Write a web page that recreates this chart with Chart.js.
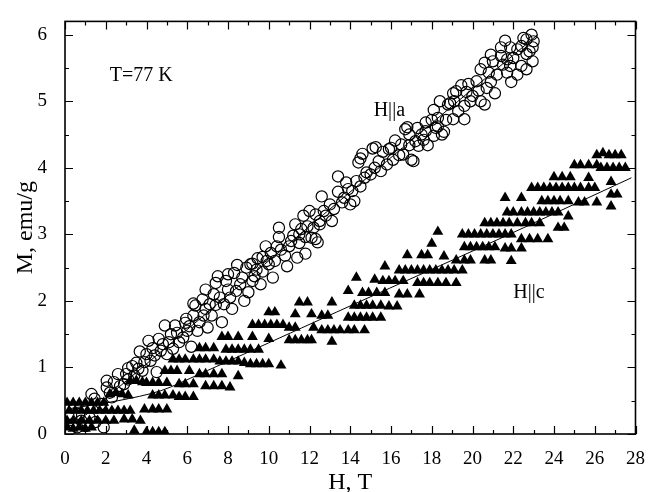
<!DOCTYPE html>
<html>
<head>
<meta charset="utf-8">
<script src="https://cdn.jsdelivr.net/npm/chart.js@4"></script>
<style>
  html, body { margin: 0; padding: 0; background: #fff; }
  #wrap { width: 651px; height: 492px; }
</style>
</head>
<body>
<div id="wrap"><canvas id="chart"></canvas></div>
<script>
// axis ranges
const xRange = [0, 28];
const yRange = [0, 6.2];

// H||a, open circles  [H (T), M (emu/g)]
const hParA = [
  [0.2,0.05],[0.3,0.28],[0.4,0.15],[0.6,0.1],[0.7,0.3],[0.8,0.2],[1.0,0.12],[1.2,0.25],[1.5,0.18],[1.9,0.1],
  [1.3,0.6],[1.45,0.53],[1.8,0.45],[2.05,0.8],[2.05,0.7],[2.2,0.62],[2.4,0.78],[2.6,0.9],[2.9,0.75],[3.1,0.99],
  [3.1,0.82],[3.3,1.02],[3.4,0.88],[3.5,1.07],[3.67,1.24],[3.8,0.95],[4.0,1.2],[4.1,1.4],[4.2,1.1],[4.3,1.29],
  [4.5,0.93],[4.6,1.43],[4.8,1.35],[4.9,1.63],[5.0,1.2],[5.2,1.5],[5.4,1.63],[5.6,1.38],[5.9,1.67],[5.95,1.73],
  [6.0,1.55],[6.2,1.31],[6.3,1.78],[6.3,1.96],[6.4,1.93],[6.6,1.68],[6.75,2.02],[6.9,2.17],[6.9,1.88],[7.0,1.6],
  [7.2,1.78],[7.4,1.94],[7.4,2.27],[7.5,2.37],[7.6,2.05],[7.7,1.68],[8.0,2.17],[8.0,2.4],[8.2,1.88],[8.3,2.42],
  [8.45,2.54],[8.6,2.25],[8.8,2.0],[9.0,2.13],[9.1,2.55],[9.2,2.56],[9.3,2.37],[9.45,2.64],[9.6,2.25],[9.7,2.44],
  [9.7,2.66],[9.85,2.82],[10.0,2.55],[10.2,2.35],[10.3,2.6],[10.5,2.96],[10.5,3.1],[10.6,2.77],[10.9,2.52],[11.0,2.82],
  [11.2,2.98],[11.3,3.15],[11.4,2.65],[11.5,2.87],[11.6,3.08],[11.7,3.28],[11.8,2.71],[11.8,2.96],[12.0,3.35],[12.1,2.95],
  [12.2,3.1],[12.3,3.3],[12.3,2.93],[12.4,2.88],[12.5,3.15],[12.5,3.2],[12.6,3.57],[12.7,3.35],[13.0,3.45],[13.1,3.2],
  [13.4,3.64],[13.4,3.87],[13.7,3.55],[13.9,3.68],[14.0,3.45],[14.2,3.5],[14.3,3.8],[14.4,4.08],[14.5,4.14],[14.6,4.21],
  [14.8,3.93],[15.0,3.9],[15.1,4.29],[15.25,4.31],[15.4,4.1],[15.6,4.24],[15.9,4.28],[16.1,4.12],[16.2,4.41],[16.4,4.19],
  [16.6,4.2],[16.7,4.58],[16.8,4.61],[16.9,4.34],[17.0,4.12],[17.1,4.1],[17.2,4.4],[17.35,4.33],[17.5,4.5],[17.7,4.68],
  [17.7,4.55],[17.8,4.34],[18.0,4.72],[18.1,4.48],[18.1,4.87],[18.2,4.6],[18.3,4.75],[18.4,5.0],[18.5,4.5],[18.6,4.54],
  [18.8,4.95],[18.9,4.97],[19.05,5.12],[19.05,4.73],[19.1,5.0],[19.2,5.15],[19.45,5.24],[19.6,4.73],[19.6,4.93],[19.7,5.14],
  [19.8,5.26],[20.0,5.08],[20.3,5.16],[20.4,5.0],[20.4,5.48],[20.6,4.95],[20.6,5.58],[20.8,5.43],[20.9,5.29],[21.0,5.6],
  [21.1,5.12],[21.4,5.81],[21.4,5.68],[21.6,5.91],[21.7,5.63],[21.7,5.43],[21.85,5.53],[21.85,5.81],[21.9,5.29],[22.2,5.78],
  [22.4,5.83],[22.4,5.53],[22.65,5.71],[22.65,5.93],[22.65,5.48],[22.9,6.0],[22.95,5.81],[22.95,5.6],
  [2.3,0.55],[2.7,0.72],[3.0,0.9],[3.6,0.98],[3.9,1.08],[4.4,1.18],[4.7,1.25],[5.1,1.38],[5.3,1.28],[5.5,1.52],
  [5.8,1.45],[6.1,1.62],[6.5,1.55],[6.8,1.78],[7.1,1.95],[7.3,2.1],[7.8,1.95],[7.9,2.3],[8.1,2.05],[8.4,2.15],
  [8.7,2.35],[8.9,2.5],[9.2,2.3],[9.4,2.47],[9.9,2.6],[10.1,2.72],[10.4,2.82],[10.8,2.68],[11.1,2.9],[11.5,3.0],
  [11.9,3.12],[12.8,3.28],[13.2,3.38],[13.6,3.48],[13.8,3.78],[14.1,3.65],[14.5,3.72],[14.7,3.85],[15.2,4.0],[15.5,3.95],
  [15.8,4.05],[16.0,4.3],[16.5,4.35],[16.9,4.5],[17.3,4.6],[17.6,4.42],[18.3,4.62],[18.7,4.72],[19.3,4.85],[19.9,5.0],
  [20.2,5.3],[20.7,5.2],[21.2,5.4],[21.5,5.55],[22.0,5.65],[22.2,5.4],[22.8,5.75],[23.0,5.9],[22.5,5.95],[20.9,5.7]
];

// H||c, filled triangles  [H (T), M (emu/g)]
const hParC = [
  [0.1,0.47],[0.4,0.47],[0.7,0.47],[1.0,0.47],[1.3,0.47],[1.6,0.47],[1.9,0.47],
  [0.2,0.35],[0.5,0.35],[0.8,0.35],[1.1,0.35],[1.4,0.35],[1.7,0.35],[2.0,0.35],[2.3,0.35],[2.6,0.35],[2.9,0.35],[3.2,0.35],
  [0.1,0.2],[0.4,0.2],[0.8,0.2],[1.2,0.2],[1.6,0.2],[2.0,0.2],[2.4,0.2],[2.9,0.22],[3.3,0.22],[3.7,0.2],
  [0.1,0.1],[0.4,0.08],[0.7,0.1],[1.0,0.08],[1.3,0.1],
  [3.4,0.05],[4.0,0.03],[4.3,0.03],[4.6,0.03],[4.9,0.03],
  [2.2,0.6],[2.5,0.62],[2.8,0.6],[3.1,0.58],
  [3.2,0.8],[3.5,0.8],[3.8,0.78],
  [3.9,0.37],[4.3,0.37],[4.6,0.37],[5.0,0.37],
  [4.0,0.77],[4.3,0.77],[4.6,0.77],[5.0,0.77],
  [4.3,0.58],[4.6,0.58],[4.9,0.58],[5.3,0.58],[5.6,0.56],[5.9,0.56],[6.3,0.56],
  [4.9,0.95],[5.2,0.95],[5.5,0.95],[6.1,0.95],
  [5.3,1.12],[5.6,1.12],[5.9,1.12],[6.3,1.12],
  [5.6,0.75],[5.9,0.75],[6.3,0.75],
  [6.6,1.29],[6.9,1.29],[7.3,1.29],
  [6.6,1.12],[6.9,1.12],[7.3,1.12],
  [7.7,1.46],[8.0,1.46],[8.5,1.46],
  [7.9,1.27],[8.2,1.27],[8.5,1.27],[8.8,1.27],[9.1,1.27],[9.5,1.27],
  [7.6,1.09],[7.9,1.09],[8.2,1.09],[8.5,1.09],[8.8,1.07],[9.1,1.05],[9.4,1.05],[9.7,1.05],[10.0,1.05],[10.6,1.03],
  [6.6,0.9],[6.9,0.9],[7.3,0.9],[7.7,0.9],[8.5,0.87],
  [6.9,0.72],[7.3,0.72],[7.7,0.72],[8.1,0.7],
  [9.2,1.46],[10.0,1.43],
  [9.2,1.64],[9.5,1.64],[9.8,1.64],[10.1,1.64],[10.4,1.64],[10.7,1.64],
  [10.0,1.83],[10.3,1.83],
  [11.0,1.6],[11.3,1.6],[12.2,1.6],
  [11.3,1.8],[12.1,1.8],[12.6,1.78],[12.9,1.78],
  [11.5,1.98],[11.9,1.98],[13.1,1.98],
  [11.0,1.41],[11.3,1.41],[11.6,1.41],[11.9,1.41],[12.1,1.41],
  [12.6,1.56],[12.9,1.56],[13.2,1.56],[13.5,1.56],[13.9,1.56],[14.2,1.56],[14.7,1.56],
  [13.1,1.39],[13.9,2.15],[14.3,2.35],
  [13.9,1.75],[14.2,1.75],[14.5,1.75],[14.8,1.75],[15.1,1.75],[15.5,1.75],
  [14.2,1.93],[14.5,1.93],[14.8,1.93],[15.1,1.93],[15.5,1.93],[15.9,1.92],[16.3,1.92],
  [14.6,2.12],[14.9,2.12],[15.3,2.12],[15.7,2.12],
  [16.4,2.1],[16.8,2.1],[17.4,2.1],
  [15.2,2.32],[15.6,2.3],[15.9,2.3],[16.2,2.3],[16.6,2.3],
  [15.7,2.52],
  [16.4,2.46],[16.7,2.46],[17.0,2.46],[17.3,2.46],[17.6,2.46],[17.9,2.46],[18.2,2.46],[18.5,2.46],[18.8,2.46],[19.1,2.46],[19.5,2.46],
  [17.3,2.27],[17.6,2.27],[17.9,2.27],[18.3,2.27],[18.7,2.27],[19.2,2.27],
  [16.8,2.69],[17.5,2.69],[17.8,2.69],[18.6,2.67],
  [19.2,2.61],[19.6,2.61],[19.9,2.61],[20.6,2.61],[20.9,2.61],[21.9,2.6],
  [18.0,2.86],[18.3,3.04],
  [19.6,2.81],[19.9,2.81],[20.2,2.81],[20.5,2.81],[20.8,2.81],[21.1,2.81],
  [21.6,2.79],[21.9,2.79],[22.4,2.79],
  [19.5,3.0],[19.8,3.0],[20.1,3.0],[20.4,3.0],[20.7,3.0],[21.0,3.0],[21.3,3.0],[21.6,3.0],[21.9,3.0],
  [20.6,3.17],[20.9,3.17],[21.2,3.17],[21.5,3.17],[21.8,3.17],[22.2,3.17],[22.6,3.17],[22.9,3.17],[23.3,3.17],
  [22.4,2.93],[22.8,2.93],[23.2,2.93],[23.7,2.93],
  [21.6,3.55],[22.4,3.55],
  [21.7,3.33],[22.0,3.33],[22.4,3.33],
  [22.7,3.33],[23.0,3.33],[23.3,3.33],[23.6,3.33],[23.9,3.33],[24.2,3.33],
  [22.9,3.7],[23.2,3.7],[23.5,3.7],[23.8,3.7],[24.1,3.7],[24.4,3.7],[24.7,3.7],[25.0,3.7],[25.3,3.7],[25.7,3.7],[26.0,3.7],
  [23.4,3.5],[23.7,3.5],[24.0,3.5],[24.3,3.5],[24.7,3.5],
  [24.0,3.86],[24.4,3.86],[24.8,3.86],
  [24.7,3.27],[24.2,3.1],[24.5,3.1],
  [25.2,3.48],[25.5,3.48],[26.1,3.48],
  [25.7,3.85],
  [25.0,4.04],[25.3,4.04],[25.7,4.04],[26.1,4.04],
  [26.1,4.19],[26.4,4.22],[26.7,4.19],[27.0,4.19],[27.3,4.19],
  [26.3,4.0],[26.6,4.0],[26.9,4.0],[27.2,4.0],[27.5,4.0],
  [26.8,3.79],[26.8,3.6],[27.1,3.6],[26.8,3.42]
];

// fitted curves
const fitA = [[1.0,0.28],[6.0,1.57],[12.0,3.12],[18.0,4.67],[23.2,6.0]];
const fitC = [[0.2,0.38],[2.6,0.5],[4.7,0.65],[6.6,0.9],[10.0,1.37],[14.4,1.98],[20.8,2.86],[27.8,3.85]];

const SERIF = "'Liberation Serif', 'Times New Roman', serif";
const toXY = arr => arr.map(p => ({ x: p[0], y: p[1] }));

// frame with inward ticks on all four sides + text labels
const framePlugin = {
  id: 'framePlugin',
  afterDatasetsDraw(chart) {
    const { ctx, chartArea: a, scales: { x, y } } = chart;
    ctx.save();
    ctx.strokeStyle = '#000';
    ctx.lineWidth = 1.2;
    ctx.beginPath();
    for (let v = xRange[0]; v <= xRange[1]; v += 1) {
      const len = v % 2 === 0 ? 8 : 4;
      const px = Math.round(x.getPixelForValue(v)) + 0.5;
      ctx.moveTo(px, a.bottom); ctx.lineTo(px, a.bottom - len);
      ctx.moveTo(px, a.top); ctx.lineTo(px, a.top + len);
    }
    for (let v = 0; v <= 6; v += 0.5) {
      const len = v % 1 === 0 ? 8 : 4;
      const py = Math.round(y.getPixelForValue(v)) + 0.5;
      ctx.moveTo(a.left, py); ctx.lineTo(a.left + len, py);
      ctx.moveTo(a.right, py); ctx.lineTo(a.right - len, py);
    }
    ctx.stroke();
    ctx.lineWidth = 1.6;
    ctx.strokeRect(a.left, a.top, a.right - a.left, a.bottom - a.top);

    ctx.fillStyle = '#000';
    ctx.font = '20px ' + SERIF;
    ctx.textBaseline = 'alphabetic';
    ctx.textAlign = 'left';
    ctx.fillText('T=77 K', x.getPixelForValue(2.2), y.getPixelForValue(5.31));
    ctx.fillText('H||a', x.getPixelForValue(15.15), y.getPixelForValue(4.78));
    ctx.fillText('H||c', x.getPixelForValue(22.0), y.getPixelForValue(2.05));
    ctx.restore();
  }
};

new Chart(document.getElementById('chart'), {
  type: 'scatter',
  data: {
    datasets: [
      {
        label: 'fit a',
        data: toXY(fitA),
        showLine: true,
        borderColor: '#000',
        borderWidth: 1,
        pointRadius: 0,
        tension: 0.3,
        clip: 0
      },
      {
        label: 'fit c',
        data: toXY(fitC),
        showLine: true,
        borderColor: '#000',
        borderWidth: 1,
        pointRadius: 0,
        tension: 0.3,
        clip: 0
      },
      {
        label: 'H||a',
        data: toXY(hParA),
        pointStyle: 'circle',
        pointRadius: 5.6,
        pointBorderWidth: 1.2,
        pointBorderColor: '#000',
        pointBackgroundColor: 'rgba(0,0,0,0)',
        clip: 0
      },
      {
        label: 'H||c',
        data: toXY(hParC),
        pointStyle: 'triangle',
        pointRadius: 6.3,
        pointBorderWidth: 0,
        pointBorderColor: '#000',
        pointBackgroundColor: '#000',
        clip: 0
      }
    ]
  },
  options: {
    responsive: true,
    maintainAspectRatio: false,
    animation: false,
    events: [],
    layout: { padding: { left: 0, right: 13, top: 13, bottom: 0 } },
    plugins: {
      legend: { display: false },
      tooltip: { enabled: false }
    },
    scales: {
      x: {
        type: 'linear',
        min: xRange[0],
        max: xRange[1],
        grid: { display: false },
        border: { display: false },
        afterFit: s => { s.height = 58; },
        ticks: {
          stepSize: 2,
          padding: 6,
          color: '#000',
          font: { family: SERIF, size: 19 }
        },
        title: {
          display: true,
          text: 'H, T',
          color: '#000',
          font: { family: SERIF, size: 24, lineHeight: 0.8 },
          padding: { top: 0, bottom: 0 }
        }
      },
      y: {
        type: 'linear',
        min: yRange[0],
        max: yRange[1],
        grid: { display: false },
        border: { display: false },
        afterFit: s => { s.width = 65; },
        ticks: {
          stepSize: 1,
          includeBounds: false,
          padding: 10,
          color: '#000',
          font: { family: SERIF, size: 19 },
          callback: v => v
        },
        title: {
          display: true,
          text: 'M, emu/g',
          color: '#000',
          font: { family: SERIF, size: 24, lineHeight: 1.2 },
          padding: { top: 11, bottom: 0 }
        }
      }
    }
  },
  plugins: [framePlugin]
});
</script>
</body>
</html>
